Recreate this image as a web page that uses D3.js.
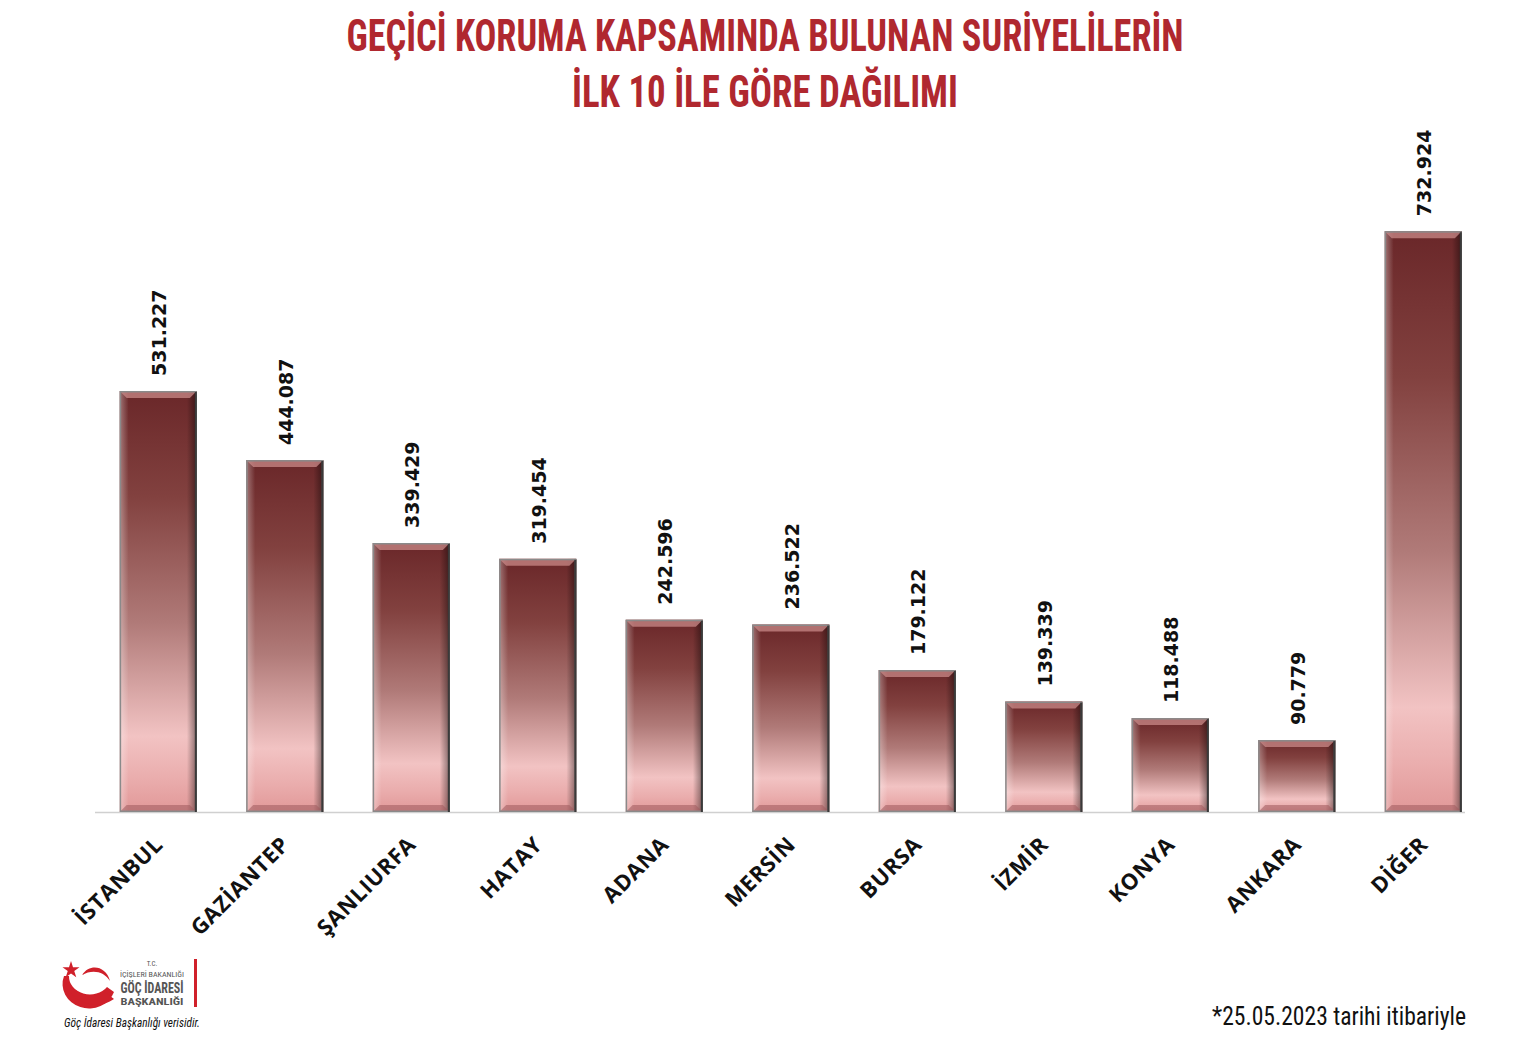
<!DOCTYPE html>
<html><head><meta charset="utf-8">
<script src="https://cdn.jsdelivr.net/npm/d3@7"></script>
<style>body{margin:0;background:#fff}svg{display:block}</style>
</head><body>
<svg id="c" width="1530" height="1054"></svg>
<script>
const categories = ["İSTANBUL","GAZİANTEP","ŞANLIURFA","HATAY","ADANA","MERSİN","BURSA","İZMİR","KONYA","ANKARA","DİĞER"];
const values = [531227,444087,339429,319454,242596,236522,179122,139339,118488,90779,732924];
const valueLabels = ["531.227","444.087","339.429","319.454","242.596","236.522","179.122","139.339","118.488","90.779","732.924"];
const titleLines = ["GEÇİCİ KORUMA KAPSAMINDA BULUNAN SURİYELİLERİN","İLK 10 İLE GÖRE DAĞILIMI"];
const footnote = "*25.05.2023 tarihi itibariyle";
const source = "Göç İdaresi Başkanlığı verisidir.";

const svg = d3.select("#c");
const defs = svg.append("defs");
const narrow = "'Liberation Sans Narrow','Roboto Condensed','DejaVu Sans Condensed',Arial,sans-serif";

const x = d3.scaleBand().domain(categories).range([95, 1486.5]).paddingInner(0.39).paddingOuter(0.195);
const y = d3.scaleLinear().domain([0, 800000]).range([812, 178]);

// gradients
const g1 = defs.append("linearGradient").attr("id","barg").attr("x1",0).attr("y1",0).attr("x2",0).attr("y2",1);
[[0,"#6a2729"],[0.25,"#82413f"],[0.55,"#b07a78"],[0.82,"#f2c3c3"],[0.92,"#eaadad"],[1,"#e19898"]]
  .forEach(([o,c])=>g1.append("stop").attr("offset",o).attr("stop-color",c));
const gl = defs.append("linearGradient").attr("id","leftg").attr("x1",0).attr("y1",0).attr("x2",1).attr("y2",0);
gl.append("stop").attr("offset",0).attr("stop-color","#fff").attr("stop-opacity",0.35);
gl.append("stop").attr("offset",1).attr("stop-color","#fff").attr("stop-opacity",0);
const gr = defs.append("linearGradient").attr("id","rightg").attr("x1",0).attr("y1",0).attr("x2",1).attr("y2",0);
gr.append("stop").attr("offset",0).attr("stop-color","#000").attr("stop-opacity",0);
gr.append("stop").attr("offset",1).attr("stop-color","#000").attr("stop-opacity",0.45);

// axis line
svg.append("line").attr("x1",95).attr("x2",1465).attr("y1",812.5).attr("y2",812.5)
  .attr("stroke","#d0d0d0").attr("stroke-width",1.5);

const bw = x.bandwidth();
const bars = svg.append("g").selectAll("g").data(categories).join("g");
bars.each(function(d,i){
  const g = d3.select(this);
  const x0 = x(d), y0 = y(values[i]), y1 = y(0), h = y1 - y0;
  const b = 7;
  g.append("rect").attr("x",x0).attr("y",y0).attr("width",bw).attr("height",h).attr("fill","url(#barg)");
  g.append("rect").attr("x",x0).attr("y",y0).attr("width",b+2).attr("height",h).attr("fill","url(#leftg)");
  g.append("rect").attr("x",x0+bw-b-3).attr("y",y0).attr("width",b+3).attr("height",h).attr("fill","url(#rightg)");
  g.append("path").attr("d",`M${x0},${y0}L${x0+bw},${y0}L${x0+bw-b},${y0+b}L${x0+b},${y0+b}Z`)
    .attr("fill","#c98a88").attr("opacity",0.75);
  g.append("path").attr("d",`M${x0},${y1}L${x0+bw},${y1}L${x0+bw-b},${y1-b}L${x0+b},${y1-b}Z`)
    .attr("fill","#9e5a5c").attr("opacity",0.55);
  g.append("rect").attr("x",x0+0.75).attr("y",y0+0.75).attr("width",bw-1.5).attr("height",h-1.5)
    .attr("fill","none").attr("stroke","#8a8a8a").attr("stroke-width",1.5);
  g.append("line").attr("x1",x0+bw-1).attr("x2",x0+bw-1).attr("y1",y0+1).attr("y2",y1)
    .attr("stroke","#3a3a3a").attr("stroke-width",2);
  const cx = x0 + bw/2 + 1;
  g.append("text").attr("transform",`translate(${cx+7},${y0-15}) rotate(-90)`)
    .attr("font-family","'DejaVu Sans',Verdana,sans-serif").attr("font-weight","bold")
    .attr("font-size",19).attr("fill","#111").text(valueLabels[i]);
  g.append("text").attr("transform",`translate(${cx+5},${846}) rotate(-45)`)
    .attr("text-anchor","end")
    .attr("font-family","'Open Sans',sans-serif").attr("font-weight","bold")
    .attr("font-size",22).attr("letter-spacing",0.6).attr("fill","#111").text(d);
});

// title
svg.append("g").selectAll("text").data(titleLines).join("text")
  .attr("x",765).attr("y",(d,i)=>51+i*56)
  .attr("text-anchor","middle")
  .attr("font-family",narrow).attr("font-weight","bold").attr("font-size",44)
  .attr("fill","#b0282f")
  .attr("textLength",(d,i)=>i===0?837:386).attr("lengthAdjust","spacingAndGlyphs")
  .text(d=>d);

// footnote
svg.append("text").attr("x",1466).attr("y",1025).attr("text-anchor","end")
  .attr("font-family",narrow).attr("font-size",25).attr("fill","#111")
  .attr("textLength",254).attr("lengthAdjust","spacingAndGlyphs").text(footnote);

// logo
const lg = svg.append("g");
lg.append("path").attr("d","M64,976 A26,24 0 0 0 114,992 L107,987 A21,18 0 0 1 69,976 Z").attr("fill","#d0202a");
lg.append("path").attr("d","M66,980 C68,1002 96,1012 114,999 L105,992 C95,999 77,997 66,980 Z").attr("fill","#d0202a");
lg.append("path").attr("d","M82,975 C90,963 106,966 110,981 C104,971 92,969 82,975 Z").attr("fill","#d0202a");
const star = d3.symbol().type(d3.symbolStar).size(90);
lg.append("path").attr("d",star()).attr("transform","translate(71,970)").attr("fill","#d0202a");
lg.append("rect").attr("x",194).attr("y",959).attr("width",3).attr("height",48).attr("fill","#d0202a");
const lt = [
  {t:"T.C.",x:152,y:966,s:7,w:"normal",l:null},
  {t:"İÇİŞLERİ BAKANLIĞI",x:152,y:977,s:8,w:"normal",l:64},
  {t:"GÖÇ İDARESİ",x:152,y:993,s:14,w:"bold",l:63},
  {t:"BAŞKANLIĞI",x:152,y:1005,s:8.5,w:"bold",l:63}
];
lg.selectAll("text.l").data(lt).join("text").attr("class","l")
  .attr("x",d=>d.x).attr("y",d=>d.y).attr("text-anchor","middle")
  .attr("font-family",narrow).attr("font-size",d=>d.s).attr("font-weight",d=>d.w)
  .attr("fill","#555")
  .each(function(d){ if(d.l) d3.select(this).attr("textLength",d.l).attr("lengthAdjust","spacingAndGlyphs"); })
  .text(d=>d.t);
svg.append("text").attr("x",64).attr("y",1027).attr("font-family",narrow).attr("font-style","italic")
  .attr("font-size",12).attr("fill","#111").attr("textLength",136).attr("lengthAdjust","spacingAndGlyphs").text(source);
</script>
</body></html>
